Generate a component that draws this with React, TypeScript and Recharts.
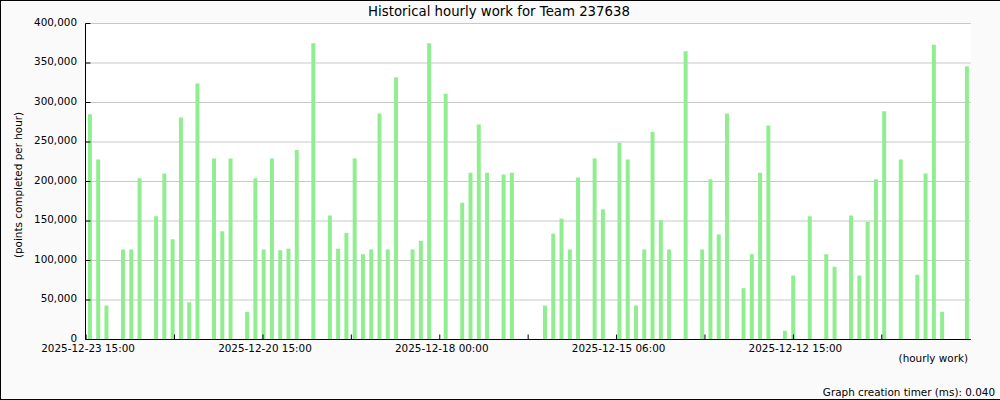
import { BarChart, Bar, XAxis, YAxis, CartesianGrid } from 'recharts';

// points completed per hour, one entry per slot (newest on the left), 0 = no work
const POINTS = [
  285000, 228000, 43000, 0, 114000, 114000, 204000, 0, 156000, 210000,
  127000, 281000, 47000, 324000, 0, 229000, 137000, 229000, 0, 35000,
  204000, 114000, 229000, 113000, 115000, 240000, 0, 375000, 0, 157000,
  115000, 135000, 229000, 108000, 114000, 286000, 114000, 332000, 0, 114000,
  125000, 375000, 0, 311000, 0, 173000, 211000, 272000, 211000, 0,
  209000, 211000, 0, 0, 0, 43000, 134000, 153000, 114000, 205000,
  0, 229000, 165000, 0, 249000, 228000, 43000, 114000, 263000, 151000,
  114000, 0, 365000, 0, 114000, 203000, 133000, 286000, 0, 65000,
  108000, 211000, 271000, 0, 11000, 81000, 0, 156000, 0, 108000,
  92000, 0, 157000, 81000, 149000, 203000, 289000, 0, 228000, 0,
  82000, 210000, 373000, 35000, 0, 0, 346000,
];

const Y_TICKS = [0, 50000, 100000, 150000, 200000, 250000, 300000, 350000, 400000];

// x ticks (in slot units) and their labels, every other tick is labelled
const X_TICKS = [-0.48, 10.21, 20.9, 31.58, 42.27, 52.95, 63.64, 74.32, 85.01, 95.69];
const X_TICK_LABELS = [
  '2025-12-23 15:00', '', '2025-12-20 15:00', '', '2025-12-18 00:00', '',
  '2025-12-15 06:00', '', '2025-12-12 15:00', '',
];

const FONT = '"DejaVu Sans", sans-serif';
const SMALL = 10.4;

const data = POINTS.map((v, i) => ({ slot: i, points: v }));

function YTick(props: any) {
  const { x, y, payload } = props;
  return (
    <g>
      <line x1={x} x2={x + 5} y1={y} y2={y} stroke="#000" />
      <text x={x - 8.5} y={y} dy={2.4} textAnchor="end" fontSize={SMALL} fontFamily={FONT} fill="#000">
        {payload.value.toLocaleString('en-US')}
      </text>
    </g>
  );
}

function XTick(props: any) {
  const { x, y, index } = props;
  const label = X_TICK_LABELS[index] ?? '';
  return (
    <g>
      <line x1={x} x2={x} y1={y - 5} y2={y} stroke="#000" />
      {label && (
        <text x={x + 2} y={y + 12.8} textAnchor="middle" fontSize={SMALL} fontFamily={FONT} fill="#000">
          {label}
        </text>
      )}
    </g>
  );
}

export default function App() {
  return (
    <div
      style={{
        position: 'fixed',
        left: 0,
        top: 0,
        width: 1000,
        height: 400,
        background: '#fafafa',
        borderLeft: '1px solid #000',
        borderTop: '1px solid #000',
        borderBottom: '1px solid #000',
        boxSizing: 'border-box',
      }}
    >
      <div style={{ position: 'absolute', left: -1, top: -1 }}>
        <BarChart
          width={1000}
          height={400}
          data={data}
          margin={{ top: 23.5, right: 29.2, bottom: 0, left: 0 }}
        >
          <CartesianGrid vertical={false} stroke="#c8c8c8" fill="#fff" />
          <XAxis
            dataKey="slot"
            type="number"
            domain={[-0.55, 106.45]}
            ticks={X_TICKS}
            interval={0}
            height={60.5}
            tickSize={0}
            tickMargin={0}
            tickLine={false}
            tick={<XTick />}
            axisLine={{ stroke: '#000' }}
            allowDataOverflow
          />
          <YAxis
            domain={[0, 400000]}
            ticks={Y_TICKS}
            width={85.5}
            tickSize={0}
            tickMargin={0}
            tickLine={false}
            tick={<YTick />}
            axisLine={{ stroke: '#000' }}
          />
          <Bar dataKey="points" fill="#90ee90" barSize={4} isAnimationActive={false} />
        </BarChart>
        <svg
          width={1000}
          height={400}
          style={{ position: 'absolute', left: 0, top: 0, pointerEvents: 'none' }}
          fontFamily={FONT}
        >
          <text x={499} y={15.5} textAnchor="middle" fontSize={13.3} fill="#000">
            Historical hourly work for Team 237638
          </text>
          <text
            x={22}
            y={185}
            transform="rotate(-90 22 185)"
            textAnchor="middle"
            fontSize={SMALL}
            fill="#000"
          >
            (points completed per hour)
          </text>
          <text x={968} y={362} textAnchor="end" fontSize={SMALL} fill="#000">
            (hourly work)
          </text>
          <text x={995} y={396} textAnchor="end" fontSize={SMALL} fill="#000">
            Graph creation timer (ms): 0.040
          </text>
        </svg>
      </div>
    </div>
  );
}
